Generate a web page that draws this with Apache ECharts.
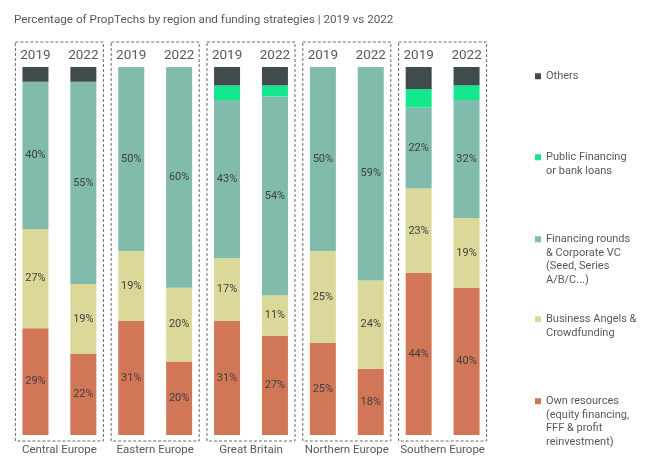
<!DOCTYPE html>
<html>
<head>
<meta charset="utf-8">
<script src="https://cdn.jsdelivr.net/npm/echarts@6/dist/echarts.min.js"></script>
<style>html,body{margin:0;padding:0;background:#fff}#c{width:659px;height:472px}</style>
</head>
<body>
<div id="c"></div>
<script>
const regions = ['Central Europe','Eastern Europe','Great Britain','Northern Europe','Southern Europe'];
const years = ['2019','2022'];
const ownResources = [29,22,31,20,31,27,25,18,44,40];
const businessAngels = [27,19,19,20,17,11,25,24,23,19];
const financingRounds = [40,55,50,60,43,54,50,59,22,32];
const publicFinancing = [0,0,0,0,4,3,0,0,5,4];
const others = [4,4,0,0,5,5,0,0,6,5];

const seriesNames = ['Own resources','Business Angels & Crowdfunding','Financing rounds & Corporate VC','Public Financing or bank loans','Others'];
const legendTexts = {
  'Others': 'Others',
  'Public Financing or bank loans': 'Public Financing\nor bank loans',
  'Financing rounds & Corporate VC': 'Financing rounds\n& Corporate VC\n(Seed, Series\nA/B/C...)',
  'Business Angels & Crowdfunding': 'Business Angels &\nCrowdfunding',
  'Own resources': 'Own resources\n(equity financing,\nFFF & profit\nreinvestment)'
};
const colors = ['#d27658','#dbd99a','#80bbab','#14e88c','#3f4b4d'];
const values = [ownResources, businessAngels, financingRounds, publicFinancing, others];
const labeled = [true, true, true, false, false];

const cats = [];
regions.forEach(r => years.forEach(y => cats.push(r + ' ' + y)));

const FONT = 'Roboto, "Liberation Sans", sans-serif';
const LH = 13.5;
const legendOrder = ['Others','Public Financing or bank loans','Financing rounds & Corporate VC','Business Angels & Crowdfunding','Own resources'];
const legendTops = [69.5, 137, 192, 299, 354];

const chart = echarts.init(document.getElementById('c'), null, {renderer: 'canvas'});
chart.setOption({
  backgroundColor: '#fff',
  animation: false,
  textStyle: {fontFamily: FONT},
  title: {
    text: 'Percentage of PropTechs by region and funding strategies | 2019 vs 2022',
    left: 9, top: 9,
    textStyle: {fontSize: 11.7, fontWeight: 'normal', color: '#595959', fontFamily: FONT}
  },
  legend: legendOrder.map((n, i) => {
    return {
      data: [n], left: 535, top: legendTops[i], orient: 'vertical', padding: 0,
      itemWidth: 6, itemHeight: 6, icon: 'rect', selectedMode: false,
      formatter: name => {
        const lines = legendTexts[name].split('\n').length;
        return '\n'.repeat(lines - 1) + legendTexts[name];
      },
      textStyle: {fontSize: 11, lineHeight: LH, color: '#595959', fontFamily: FONT}
    };
  }),
  grid: {left: 11.5, right: 168.5, top: 67, bottom: 37},
  xAxis: [
    {type: 'category', data: cats, position: 'top',
      axisLine: {show: false}, axisTick: {show: false},
      axisLabel: {formatter: v => v.slice(-4), fontSize: 13.5, color: '#595959', margin: 4, interval: 0, fontFamily: FONT}},
    {type: 'category', data: regions, position: 'bottom',
      axisLine: {show: false}, axisTick: {show: false},
      axisLabel: {fontSize: 11.5, color: '#595959', margin: 9, interval: 0, fontFamily: FONT}}
  ],
  yAxis: {type: 'value', min: 0, max: 100, show: false},
  series: seriesNames.map((n, i) => ({
    name: n, type: 'bar', stack: 'total', xAxisIndex: 0, barWidth: 26,
    data: values[i], clip: true,
    itemStyle: {color: colors[i]},
    label: {show: labeled[i], position: 'inside', fontSize: 11, color: '#404040', fontFamily: FONT,
      formatter: p => p.value > 0 ? p.value + '%' : ''}
  }))
});

const boxes = regions.map((r, i) => {
  const cx = chart.convertToPixel({xAxisIndex: 1}, r);
  const yTop = chart.convertToPixel({yAxisIndex: 0}, 100);
  const yBot = chart.convertToPixel({yAxisIndex: 0}, 0);
  return {
    type: 'rect', silent: true,
    shape: {x: cx - 44, y: yTop - 25, width: 88, height: (yBot + 6) - (yTop - 25)},
    style: {fill: 'none', stroke: '#6b6b6b', lineWidth: 1, lineDash: [3, 2]}
  };
});
chart.setOption({graphic: boxes});
</script>
</body>
</html>
